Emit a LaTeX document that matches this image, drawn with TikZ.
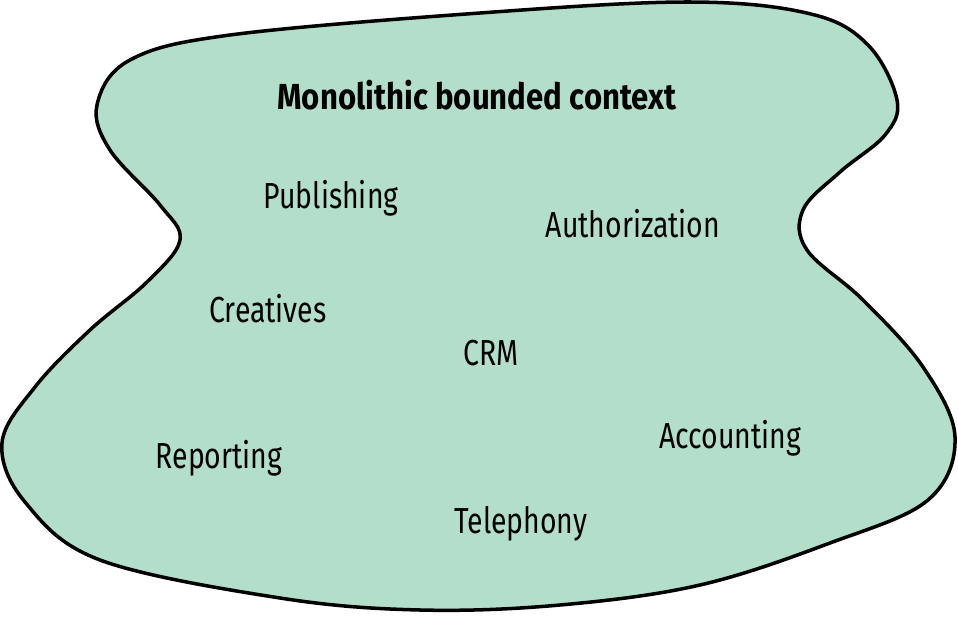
\documentclass[tikz,border=0pt]{standalone}
\usepackage{fontspec}
\setmainfont{Fira Sans}[FakeStretch=0.785]
\newfontfamily\titlefont{Fira Sans}[FakeStretch=0.86]
\usepackage{xcolor}
\usepackage{tikz}
\definecolor{ctxgreen}{RGB}{179,223,202}

\begin{document}
\begin{tikzpicture}[
    ctxlabel/.style={anchor=base, inner sep=0pt, font=\fontsize{10.3}{12}\selectfont},
    ctxtitle/.style={ctxlabel, font=\fontsize{10.3}{12}\selectfont\titlefont\bfseries}]
    \useasboundingbox (0,0) rectangle (9.58,6.17);
    % bounded context outline
    \filldraw[fill=ctxgreen, draw=black, line width=1pt]
      plot[smooth cycle, tension=0.6] coordinates {
        (2.30,5.82) (4.80,6.04) (6.90,6.15) (8.11,6.03) (8.68,5.72)
        (8.97,5.17) (8.85,4.82) (8.40,4.45) (8.03,4.07) (8.07,3.67)
        (8.63,3.17) (9.23,2.50) (9.55,1.80) (9.28,1.17) (8.30,0.74)
        (7.00,0.32) (5.60,0.12) (4.20,0.07) (2.80,0.19) (1.00,0.57)
        (0.25,1.15) (0.02,1.74) (0.35,2.30) (0.90,2.87) (1.47,3.35)
        (1.80,3.77) (1.60,4.12) (1.10,4.67) (0.97,5.12) (1.30,5.57)};
    \node[ctxtitle] (title) at (4.77,5.07) {Monolithic bounded context};
    \node[ctxlabel] (publishing) at (3.31,4.09) {Publishing};
    \node[ctxlabel] (authorization) at (6.33,3.80) {Authorization};
    \node[ctxlabel] (creatives) at (2.68,2.95) {Creatives};
    \node[ctxlabel] (crm) at (4.91,2.52) {CRM};
    \node[ctxlabel] (accounting) at (7.30,1.69) {Accounting};
    \node[ctxlabel] (reporting) at (2.19,1.49) {Reporting};
    \node[ctxlabel] (telephony) at (5.21,0.84) {Telephony};
\end{tikzpicture}
\end{document}
